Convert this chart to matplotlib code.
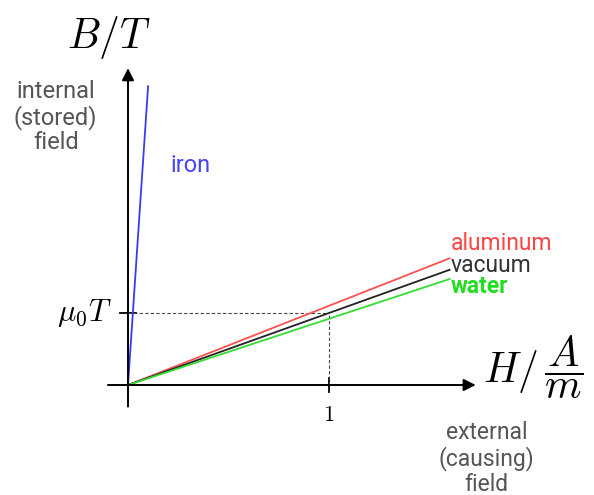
import numpy as np
import matplotlib.pyplot as plt

plt.rcParams['mathtext.fontset'] = 'cm'
plt.rcParams['font.family'] = ['Roboto', 'DejaVu Sans']

# relative permeability-like slopes (B in units of mu0*T per A/m)
materials = ['aluminum', 'vacuum', 'water']
slopes = [1.1, 1.0, 0.92]
colors = ['#ff5050', '#222222', '#33dd33']
h_end = 1.6

iron_h = [0.0, 0.1]
iron_b = [0.0, 4.15]

fig = plt.figure(figsize=(5.94, 4.95), dpi=100)
ax = fig.add_axes([0, 0, 1, 1])
# map data -> pixels: origin at (128, 385), 1 unit x = 201 px, 1 unit y = 72 px
ax.set_xlim((0 - 128) / 201, (594 - 128) / 201)
ax.set_ylim((385 - 495) / 72, 385 / 72)
ax.axis('off')

# axes arrows
arrow = dict(arrowstyle='-|>', lw=1.4, color='black', mutation_scale=18, shrinkA=0, shrinkB=0)
ax.annotate('', xy=(1.73, 0), xytext=(-0.1, 0), arrowprops=arrow)
ax.annotate('', xy=(0, 4.4), xytext=(0, -0.3), arrowprops=arrow)

# ticks
ax.plot([-0.04, 0.04], [1, 1], color='black', lw=1.3)
ax.plot([1, 1], [-0.1, 0.1], color='black', lw=1.3)

# dashed guides
ax.plot([0, 1], [1, 1], color='#444444', lw=0.8, ls=(0, (3, 2)))
ax.plot([1, 1], [0, 1], color='#444444', lw=0.8, ls=(0, (3, 2)))

# material lines
for name, k, c in zip(materials, slopes, colors):
    ax.plot([0, h_end], [0, k * h_end], color=c, lw=1.3)
ax.plot(iron_h, iron_b, color='#3a3aee', lw=1.3)

ax.text(1.605, 1.96, 'aluminum', color='#ff4444', fontsize=16.5, ha='left', va='center')
ax.text(1.605, 1.66, 'vacuum', color='#333333', fontsize=16.5, ha='left', va='center')
ax.text(1.605, 1.37, 'water', color='#22dd22', fontsize=16.5, ha='left', va='center',
        fontweight='bold')
ax.text(0.21, 3.05, 'iron', color='#4444ff', fontsize=17, ha='left', va='center')

# axis labels
ax.text(-0.095, 4.83, r'$B/T$', fontsize=30, ha='center', va='center')
ax.text(-0.36, 3.72, 'internal\n(stored)\nfield', fontsize=17, color='#555555',
        ha='center', va='center', linespacing=1.1)
ax.text(-0.08, 1, r'$\mu_0 T$', fontsize=22, ha='right', va='center')
ax.text(1, -0.42, r'$1$', fontsize=16, ha='center', va='center')
ax.text(1.766, 0.25, r'$H/\,\dfrac{A}{m}$', fontsize=30, ha='left', va='center')
ax.text(1.785, -1.02, 'external\n(causing)\nfield', fontsize=16.5, color='#555555',
        ha='center', va='center', linespacing=1.1)

fig.savefig('out.png', dpi=100)
